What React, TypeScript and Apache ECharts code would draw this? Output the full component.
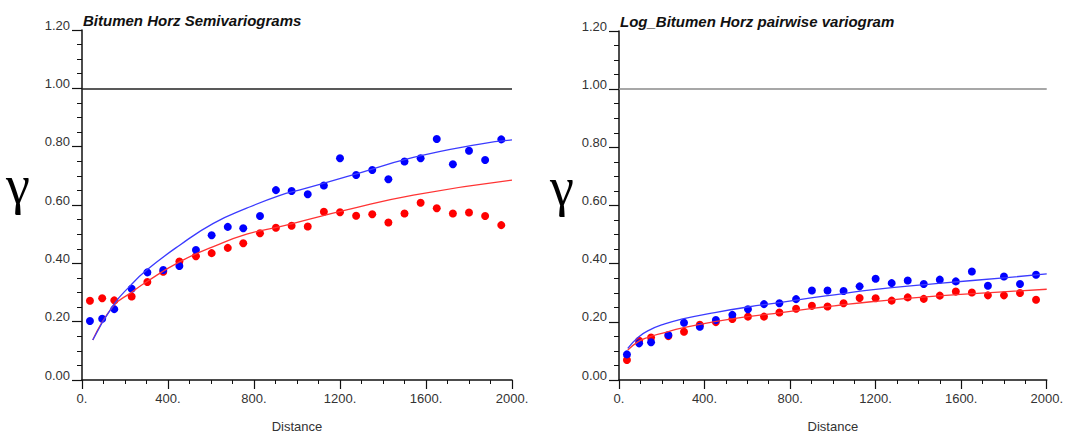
import React, { useEffect, useRef } from "react";
import * as echarts from "echarts";

// ---- Data ----
const lags = [37, 94, 150, 231, 304, 378, 453, 530, 603, 678, 750, 828, 902, 975, 1050, 1125, 1200, 1275, 1350, 1425, 1500, 1575, 1650, 1725, 1800, 1875, 1950];

const leftBlue = [0.202, 0.21, 0.243, 0.313, 0.369, 0.377, 0.391, 0.446, 0.496, 0.525, 0.52, 0.562, 0.651, 0.648, 0.637, 0.667, 0.76, 0.703, 0.72, 0.688, 0.749, 0.76, 0.826, 0.74, 0.786, 0.754, 0.825];
const leftRed = [0.272, 0.28, 0.273, 0.286, 0.336, 0.371, 0.406, 0.424, 0.435, 0.453, 0.469, 0.503, 0.522, 0.529, 0.526, 0.577, 0.575, 0.563, 0.568, 0.54, 0.571, 0.608, 0.589, 0.571, 0.574, 0.562, 0.531];

const rightBlue = [0.088, 0.126, 0.13, 0.155, 0.197, 0.183, 0.206, 0.224, 0.243, 0.261, 0.264, 0.278, 0.308, 0.308, 0.306, 0.322, 0.348, 0.333, 0.342, 0.33, 0.345, 0.339, 0.373, 0.324, 0.356, 0.33, 0.362];
const rightRed = [0.069, 0.135, 0.146, 0.151, 0.166, 0.19, 0.199, 0.21, 0.218, 0.218, 0.232, 0.245, 0.255, 0.253, 0.264, 0.282, 0.281, 0.273, 0.284, 0.279, 0.29, 0.304, 0.301, 0.291, 0.291, 0.299, 0.276];

// model curves
const leftBlueCurveD = [50, 146, 223, 301, 456, 611, 766, 921, 1014, 1231, 1541, 1851, 2000];
const leftBlueCurveV = [0.137, 0.257, 0.322, 0.377, 0.463, 0.537, 0.589, 0.633, 0.652, 0.697, 0.763, 0.809, 0.823];
const leftRedCurveD = [50, 146, 223, 301, 456, 611, 766, 921, 1014, 1231, 1541, 2000];
const leftRedCurveV = [0.137, 0.254, 0.297, 0.337, 0.406, 0.457, 0.5, 0.526, 0.543, 0.583, 0.634, 0.685];

const rightCurveD = [41, 90, 137, 214, 292, 448, 603, 758, 914, 1007, 1179, 1494, 1812, 2000];
const rightBlueCurveV = [0.109, 0.147, 0.17, 0.193, 0.209, 0.232, 0.251, 0.267, 0.284, 0.293, 0.31, 0.332, 0.352, 0.365];
const rightRedCurveV = [0.103, 0.132, 0.147, 0.163, 0.178, 0.201, 0.218, 0.232, 0.247, 0.255, 0.269, 0.289, 0.304, 0.312];

const xTicksInterval = 400;
const yTicksInterval = 0.2;
const sillValue = 1.0;

const titles = ["Bitumen Horz Semivariograms", "Log_Bitumen Horz pairwise variogram"];
const xName = "Distance";

const BLUE = "#0000ff";
const RED = "#ff0000";
const BLUE_LINE = "#3b3bff";
const RED_LINE = "#ff3434";
const FONT = "Liberation Sans";

const zip = (xs: number[], ys: number[]) => xs.map((x, i) => [x, ys[i]]);

function xAxis(gridIndex: number) {
  return {
    type: "value",
    gridIndex,
    min: 0,
    max: 2000,
    interval: xTicksInterval,
    name: xName,
    nameLocation: "middle",
    nameGap: 40,
    nameTextStyle: { fontFamily: FONT, fontSize: 13, color: "#333" },
    axisLine: { show: true, onZero: false, lineStyle: { color: "#111", width: 1.5 } },
    axisTick: { show: true, length: 9, lineStyle: { color: "#111", width: 1.2 } },
    minorTick: { show: true, splitNumber: 4, length: 4, lineStyle: { color: "#111", width: 1 } },
    axisLabel: {
      margin: 12,
      fontFamily: FONT,
      fontSize: 13,
      color: "#333",
      formatter: (v: number) => `${v}.`,
    },
    splitLine: { show: false },
  };
}

function yAxis(gridIndex: number) {
  return {
    type: "value",
    gridIndex,
    min: 0,
    max: 1.2,
    interval: yTicksInterval,
    axisLine: { show: true, onZero: false, lineStyle: { color: "#111", width: 1.5 } },
    axisTick: { show: true, length: 10, lineStyle: { color: "#111", width: 1.2 } },
    minorTick: { show: true, splitNumber: 4, length: 5, lineStyle: { color: "#111", width: 1 } },
    axisLabel: {
      margin: 12,
      fontFamily: FONT,
      fontSize: 13,
      color: "#333",
      verticalAlign: "bottom",
      lineHeight: 10,
      formatter: (v: number) => v.toFixed(2),
    },
    splitLine: { show: false },
  };
}

function seriesFor(idx: number, blue: number[], red: number[], bcD: number[], bcV: number[], rcD: number[], rcV: number[], sillColor: string) {
  return [
    {
      type: "line",
      xAxisIndex: idx,
      yAxisIndex: idx,
      data: zip(rcD, rcV),
      smooth: true,
      showSymbol: false,
      lineStyle: { color: RED_LINE, width: 1.3 },
      markLine: {
        silent: true,
        symbol: ["none", "none"],
        label: { show: false },
        lineStyle: { color: sillColor, width: 1.5, type: "solid" },
        data: [{ yAxis: sillValue }],
      },
    },
    {
      type: "line",
      xAxisIndex: idx,
      yAxisIndex: idx,
      data: zip(bcD, bcV),
      smooth: true,
      showSymbol: false,
      lineStyle: { color: BLUE_LINE, width: 1.3 },
    },
    {
      type: "scatter",
      xAxisIndex: idx,
      yAxisIndex: idx,
      data: zip(lags, red),
      symbolSize: 8,
      itemStyle: { color: RED, opacity: 1 },
    },
    {
      type: "scatter",
      xAxisIndex: idx,
      yAxisIndex: idx,
      data: zip(lags, blue),
      symbolSize: 8,
      itemStyle: { color: BLUE, opacity: 1 },
    },
  ];
}

export default function App() {
  const ref = useRef<HTMLDivElement>(null);
  useEffect(() => {
    document.body.style.margin = "0";
    const chart = echarts.init(ref.current!, null, { renderer: "svg" });
    const textStyle = (text: string, font: string) => ({
      text,
      font,
      fill: "#111",
      align: "left",
      verticalAlign: "middle",
      textAlign: "left",
      textVerticalAlign: "middle",
    });
    chart.setOption({
      animation: false,
      backgroundColor: "#ffffff",
      grid: [
        { left: 82, top: 30, width: 430, height: 350 },
        { left: 619, top: 31, width: 429, height: 349 },
      ],
      xAxis: [xAxis(0), xAxis(1)],
      yAxis: [yAxis(0), yAxis(1)],
      series: [
        ...seriesFor(0, leftBlue, leftRed, leftBlueCurveD, leftBlueCurveV, leftRedCurveD, leftRedCurveV, "#222"),
        ...seriesFor(1, rightBlue, rightRed, rightCurveD, rightBlueCurveV, rightCurveD, rightRedCurveV, "#8a8a8a"),
      ],
      graphic: [
        { type: "text", x: 83, y: 20, style: textStyle(titles[0], `italic bold 15px "${FONT}"`) },
        { type: "text", x: 620, y: 21, style: textStyle(titles[1], `italic bold 15px "${FONT}"`) },
        { type: "text", x: 6, y: 185, style: { ...textStyle("γ", `54px "Liberation Serif"`), fill: "#000" } },
        { type: "text", x: 550, y: 187, style: { ...textStyle("γ", `54px "Liberation Serif"`), fill: "#000" } },
      ],
    });
    return () => chart.dispose();
  }, []);
  return <div ref={ref} style={{ width: 1066, height: 439 }} />;
}
